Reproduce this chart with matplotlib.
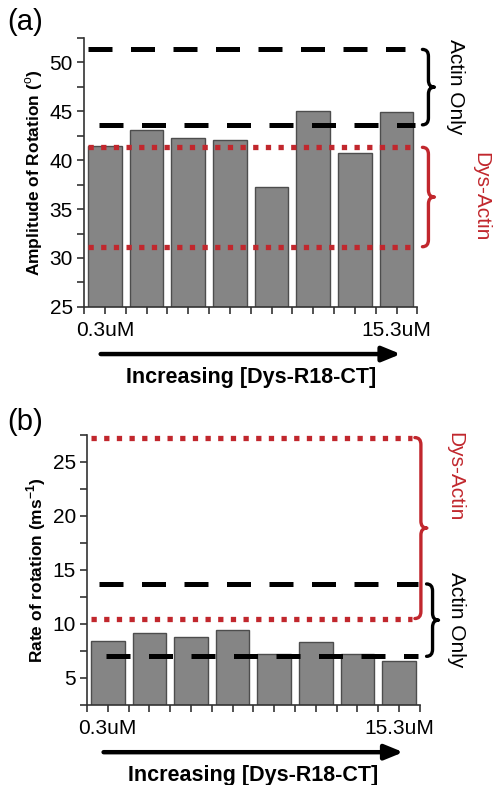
import numpy as np
import matplotlib
matplotlib.use('Agg')
import matplotlib.pyplot as plt
from matplotlib.path import Path
from matplotlib.patches import PathPatch
import matplotlib.transforms as mtransforms

plt.rcParams['font.family'] = ['Liberation Sans', 'DejaVu Sans']
plt.rcParams['mathtext.fontset'] = 'custom'
plt.rcParams['mathtext.rm'] = 'Liberation Sans'
plt.rcParams['mathtext.bf'] = 'Liberation Sans:bold'

# Дані
categories = np.arange(8)
tick_labels = ['0.3uM', '15.3uM']
amp_values = [41.4, 43.1, 42.3, 42.0, 37.3, 45.0, 40.7, 44.9]
rate_values = [8.4, 9.15, 8.75, 9.4, 7.2, 8.3, 7.2, 6.6]
amp_actin = [43.6, 51.3]       # Actin Only
amp_dys = [31.15, 41.3]        # Dys-Actin
rate_actin = [7.0, 13.7]
rate_dys = [10.5, 27.25]

RED = '#c1272d'
DASH = (0, (4.8, 3.7))
DOT = (0, (1.0, 1.4))
FS = 15


def brace(ax, x0, y0, y1, w, r, color):
    # фігурна дужка праворуч від осей (x в частках осі, y в даних)
    xm = x0 + w / 2
    ym = (y0 + y1) / 2
    verts = [(x0, y1), (xm, y1), (xm, y1 - r), (xm, ym + r),
             (xm, ym), (x0 + w, ym), (xm, ym), (xm, ym - r),
             (xm, y0 + r), (xm, y0), (x0, y0)]
    codes = [Path.MOVETO, Path.CURVE3, Path.CURVE3, Path.LINETO,
             Path.CURVE3, Path.CURVE3, Path.CURVE3, Path.CURVE3,
             Path.LINETO, Path.CURVE3, Path.CURVE3]
    trans = mtransforms.blended_transform_factory(ax.transAxes, ax.transData)
    ax.add_patch(PathPatch(Path(verts, codes), transform=trans, fill=False,
                           edgecolor=color, lw=2.4, clip_on=False,
                           capstyle='round', joinstyle='round'))


def style_axis(ax, vals, ylim, yticks, ylabel):
    ax.bar(categories, vals, width=0.81, color='#858585',
           edgecolor='#4d4d4d', linewidth=1.0, zorder=2)
    ax.set_xlim(-0.5, 7.5)
    ax.set_ylim(*ylim)
    ax.set_yticks(yticks)
    ax.set_yticks(np.arange(ylim[0], ylim[1] + 0.01, 2.5), minor=True)
    ax.set_xticks(np.arange(-0.5, 7.6, 0.5))
    labels = [''] * 17
    labels[1] = tick_labels[0]
    labels[15] = tick_labels[1]
    ax.set_xticklabels(labels)
    for s in ['top', 'right']:
        ax.spines[s].set_visible(False)
    for s in ['left', 'bottom']:
        ax.spines[s].set_color('#333333')
        ax.spines[s].set_linewidth(1.2)
    ax.tick_params(axis='both', which='both', direction='out', length=5,
                   width=1.2, color='#333333', labelsize=FS, pad=3)
    ax.tick_params(axis='x', pad=5)
    ax.set_ylabel(ylabel, fontsize=12.5, fontweight='bold', labelpad=3)
    ax.text(0.5, -0.262, 'Increasing [Dys-R18-CT]', fontsize=15.5,
            fontweight='bold', ha='center', va='center', transform=ax.transAxes)
    ax.annotate('', xy=(0.95, -0.175), xytext=(0.05, -0.175),
                xycoords='axes fraction',
                arrowprops=dict(arrowstyle='-|>,head_length=1.1,head_width=0.45',
                                lw=3.2, color='black', shrinkA=0, shrinkB=0))


fig = plt.figure(figsize=(4.94, 7.85), dpi=100)
ax1 = fig.add_axes([0.170, 0.609, 0.675, 0.343])
ax2 = fig.add_axes([0.176, 0.102, 0.674, 0.344])

style_axis(ax1, amp_values, (25, 52.5), np.arange(25, 51, 5),
           'Amplitude of Rotation ($^{\\rm o}$)')
style_axis(ax2, rate_values, (2.5, 27.5), np.arange(5, 26, 5),
           'Rate of rotation (ms$^{\\mathbf{-1}}$)')

# (a) лінії
t1 = mtransforms.blended_transform_factory(ax1.transAxes, ax1.transData)
ax1.plot([-0.4, 7.2], [amp_actin[1]] * 2, color='black',
         lw=3.6, linestyle=DASH, zorder=3)
ax1.plot([-0.15, 7.45], [amp_actin[0]] * 2, color='black', lw=3.6,
         linestyle=DASH, zorder=3)
for v in amp_dys:
    ax1.plot([-0.4, 7.45], [v] * 2, color=RED, lw=3.8, linestyle=DOT, zorder=3)
brace(ax1, 1.015, amp_actin[0], amp_actin[1], 0.036, 0.7, 'black')
brace(ax1, 1.015, amp_dys[0], amp_dys[1], 0.036, 0.7, RED)
ax1.text(1.115, np.mean(amp_actin), 'Actin Only', rotation=-90, fontsize=FS,
         ha='center', va='center', transform=t1)
ax1.text(1.19, np.mean(amp_dys), 'Dys-Actin', rotation=-90, fontsize=FS,
         color=RED, ha='center', va='center', transform=t1)

# (b) лінії
t2 = mtransforms.blended_transform_factory(ax2.transAxes, ax2.transData)
for v in rate_dys:
    ax2.plot([-0.4, 7.3], [v] * 2, color=RED, lw=3.8, linestyle=DOT, zorder=3)
ax2.plot([-0.2, 7.45], [rate_actin[1]] * 2, color='black', lw=3.6,
         linestyle=DASH, zorder=3)
ax2.plot([-0.05, 7.45], [rate_actin[0]] * 2, color='black', lw=3.6,
         linestyle=DASH, zorder=3)
brace(ax2, 0.985, rate_dys[0], rate_dys[1], 0.036, 0.65, RED)
brace(ax2, 1.02, rate_actin[0], rate_actin[1], 0.036, 0.65, 'black')
ax2.text(1.105, 23.6, 'Dys-Actin', rotation=-90, fontsize=FS, color=RED,
         ha='center', va='center', transform=t2)
ax2.text(1.11, np.mean(rate_actin), 'Actin Only', rotation=-90, fontsize=FS,
         ha='center', va='center', transform=t2)

fig.text(0.015, 0.962, '(a)', fontsize=21)
fig.text(0.015, 0.452, '(b)', fontsize=21)

fig.savefig('out.png', dpi=100)
